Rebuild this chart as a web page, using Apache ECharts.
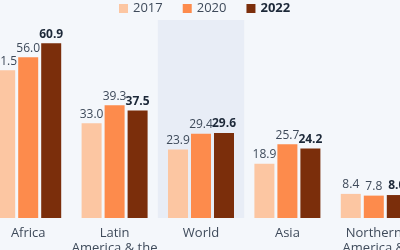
<!DOCTYPE html>
<html>
<head>
<meta charset="utf-8">
<script src="https://cdn.jsdelivr.net/npm/echarts@6/dist/echarts.min.js"></script>
<style>
  html, body { margin: 0; padding: 0; background: #f4f7fb; }
  #chart { width: 400px; height: 250px; }
</style>
</head>
<body>
<div id="chart"></div>
<script>
// 数据
var categories = ["Africa", "Latin\nAmerica & the\nCaribbean", "World", "Asia", "Northern\nAmerica &\nEurope"];
var years = ["2017", "2020", "2022"];
var values2017 = [51.5, 33.0, 23.9, 18.9, 8.4];
var values2020 = [56.0, 39.3, 29.4, 25.7, 7.8];
var values2022 = [60.9, 37.5, 29.6, 24.2, 8.0];

var myColor = ["#fcc6a2", "#fd8b4c", "#7b2e0b"];
var textColor = "#3e4a5a";
var darkText = "#1c2838";

window.addEventListener("load", function () {
    var chart = echarts.init(document.getElementById("chart"));

    function makeSeries(name, data, idx, bold) {
        return {
            name: name,
            type: "bar",
            data: data,
            barWidth: 20,
            barGap: "15%",
            itemStyle: { color: myColor[idx] },
            label: {
                show: true,
                position: "top",
                distance: 3,
                fontSize: 12,
                fontFamily: "Open Sans",
                fontWeight: bold ? "bold" : "normal",
                color: bold ? darkText : textColor,
                formatter: function (p) { return p.value.toFixed(1); }
            }
        };
    }

    var option = {
        backgroundColor: "#f4f7fb",
        animation: false,
        legend: {
            top: -3,
            left: 114,
            itemWidth: 9,
            itemHeight: 9,
            itemGap: 20,
            icon: "rect",
            textStyle: { fontSize: 13, fontFamily: "Open Sans", color: textColor },
            data: [
                { name: "2017" },
                { name: "2020" },
                { name: "2022", textStyle: { fontWeight: "bold", color: darkText } }
            ]
        },
        grid: {
            left: -15,
            width: 432,
            top: 20,
            bottom: 32,
            containLabel: false,
            outerBoundsMode: "none"
        },
        xAxis: {
            type: "category",
            data: categories,
            axisLine: { show: false },
            axisTick: { show: false },
            axisLabel: {
                color: textColor,
                fontSize: 13,
                fontFamily: "Open Sans",
                margin: 8,
                lineHeight: 15,
                interval: 0,
                hideOverlap: false
            },
            // 高亮 World 一栏
            splitArea: {
                show: true,
                areaStyle: {
                    color: ["rgba(0,0,0,0)", "rgba(0,0,0,0)", "#e8edf6", "rgba(0,0,0,0)", "rgba(0,0,0,0)"]
                }
            }
        },
        yAxis: {
            type: "value",
            min: 0,
            max: 69,
            show: false,
            splitLine: { show: false }
        },
        series: [
            makeSeries(years[0], values2017, 0, false),
            makeSeries(years[1], values2020, 1, false),
            makeSeries(years[2], values2022, 2, true)
        ]
    };

    chart.setOption(option);
});
</script>
</body>
</html>
